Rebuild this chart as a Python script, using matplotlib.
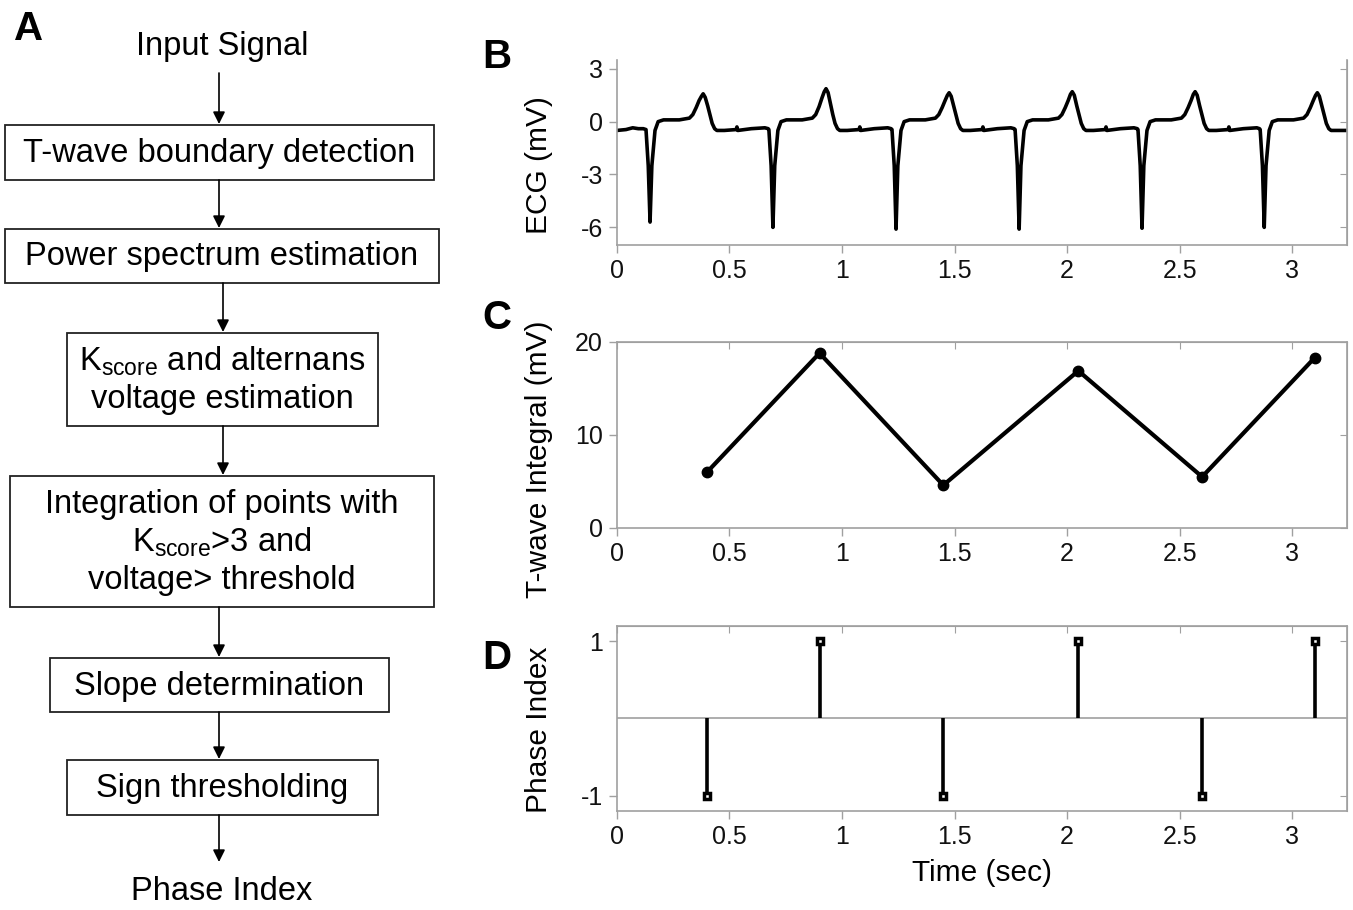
import matplotlib
matplotlib.use('Agg')
import matplotlib.pyplot as plt
from matplotlib.patches import Rectangle

plt.rcParams['font.family'] = ['Liberation Sans', 'DejaVu Sans']
plt.rcParams['mathtext.fontset'] = 'custom'
plt.rcParams['mathtext.rm'] = 'Liberation Sans'
plt.rcParams['mathtext.it'] = 'Liberation Sans:italic'
plt.rcParams['axes.unicode_minus'] = False

# ---- panel A: flow chart text ----
flow_start = 'Input Signal'
flow_end = 'Phase Index'
flow_steps = [
    ['T-wave boundary detection'],
    ['Power spectrum estimation'],
    [r'K$_{\mathrm{score}}$ and alternans', 'voltage estimation'],
    ['Integration of points with', r'K$_{\mathrm{score}}$>3 and', 'voltage> threshold'],
    ['Slope determination'],
    ['Sign thresholding'],
]

# ---- panel B: ECG trace (sec, mV) ----
ecg_t = [0.000, 0.040, 0.070, 0.095, 0.117,
         0.129, 0.139, 0.147, 0.155, 0.169, 0.183, 0.207, 0.277, 0.322, 0.337, 0.352, 0.365, 0.375, 0.383, 0.392, 0.403, 0.413, 0.423, 0.434, 0.444, 0.477, 0.530, 0.533, 0.537, 0.597, 0.657, 0.672,
         0.675, 0.685, 0.693, 0.701, 0.715, 0.729, 0.753, 0.823, 0.868, 0.883, 0.898, 0.911, 0.921, 0.929, 0.938, 0.949, 0.959, 0.969, 0.980, 0.990, 1.023, 1.076, 1.079, 1.083, 1.143, 1.203, 1.218,
         1.222, 1.232, 1.240, 1.248, 1.262, 1.276, 1.300, 1.370, 1.415, 1.430, 1.445, 1.458, 1.468, 1.476, 1.485, 1.496, 1.506, 1.516, 1.527, 1.537, 1.570, 1.623, 1.626, 1.630, 1.690, 1.750, 1.765,
         1.769, 1.779, 1.787, 1.795, 1.809, 1.823, 1.847, 1.917, 1.962, 1.977, 1.992, 2.005, 2.015, 2.023, 2.032, 2.043, 2.053, 2.063, 2.074, 2.084, 2.117, 2.170, 2.173, 2.177, 2.237, 2.297, 2.312,
         2.315, 2.325, 2.333, 2.341, 2.355, 2.369, 2.393, 2.463, 2.508, 2.523, 2.538, 2.551, 2.561, 2.569, 2.578, 2.589, 2.599, 2.609, 2.620, 2.630, 2.663, 2.716, 2.719, 2.723, 2.783, 2.843, 2.855,
         2.858, 2.868, 2.876, 2.884, 2.898, 2.912, 2.936, 3.006, 3.051, 3.066, 3.081, 3.094, 3.104, 3.112, 3.121, 3.132, 3.142, 3.152, 3.163, 3.173, 3.244]
ecg_mv = [-0.50, -0.45, -0.35, -0.40, -0.40,
          -0.45, -2.50, -5.70, -2.50, -0.50, 0.00, 0.10, 0.10, 0.20, 0.40, 0.80, 1.20, 1.43, 1.58, 1.38, 0.90, 0.40, -0.10, -0.40, -0.50, -0.50, -0.45, -0.30, -0.50, -0.40, -0.35, -0.40,
          -0.45, -2.50, -6.00, -2.50, -0.50, 0.00, 0.10, 0.10, 0.20, 0.40, 0.85, 1.35, 1.70, 1.87, 1.65, 1.00, 0.40, -0.10, -0.40, -0.50, -0.50, -0.45, -0.30, -0.50, -0.40, -0.35, -0.40,
          -0.45, -2.50, -6.10, -2.50, -0.50, 0.00, 0.10, 0.10, 0.20, 0.40, 0.80, 1.20, 1.49, 1.64, 1.44, 0.90, 0.40, -0.10, -0.40, -0.50, -0.50, -0.45, -0.30, -0.50, -0.40, -0.35, -0.40,
          -0.45, -2.50, -6.10, -2.50, -0.50, 0.00, 0.10, 0.10, 0.20, 0.40, 0.80, 1.20, 1.55, 1.70, 1.50, 0.90, 0.40, -0.10, -0.40, -0.50, -0.50, -0.45, -0.30, -0.50, -0.40, -0.35, -0.40,
          -0.45, -2.50, -6.05, -2.50, -0.50, 0.00, 0.10, 0.10, 0.20, 0.40, 0.80, 1.20, 1.55, 1.70, 1.50, 0.90, 0.40, -0.10, -0.40, -0.50, -0.50, -0.45, -0.30, -0.50, -0.40, -0.35, -0.40,
          -0.45, -2.50, -6.00, -2.50, -0.50, 0.00, 0.10, 0.10, 0.20, 0.40, 0.80, 1.20, 1.49, 1.64, 1.44, 0.90, 0.40, -0.10, -0.40, -0.50, -0.50]

# ---- panel C / D ----
beat_t = [0.40, 0.90, 1.45, 2.05, 2.60, 3.10]
twave_integral = [6.0, 18.8, 4.6, 16.9, 5.5, 18.3]
phase_index = [-1, 1, -1, 1, -1, 1]

time_ticks = [0, 0.5, 1, 1.5, 2, 2.5, 3]
time_labels = ['0', '0.5', '1', '1.5', '2', '2.5', '3']

GRAY = '#a0a0a0'
TICK_FS = 18
LABEL_FS = 21.5

fig = plt.figure(figsize=(13.53, 9.10), dpi=100)

# flow chart drawn on a pixel-sized overlay
fa = fig.add_axes([0, 0, 1, 1])
fa.set_xlim(0, 1353)
fa.set_ylim(910, 0)
fa.axis('off')

boxes = [(5, 434, 125, 180), (5, 439, 229, 283), (67, 378, 333, 426),
         (10, 434, 476, 607), (50, 389, 658, 712), (67, 378, 760, 815)]
line_gap = 38
for lines, (x0, x1, y0, y1) in zip(flow_steps, boxes):
    fa.add_patch(Rectangle((x0, y0), x1 - x0, y1 - y0, fill=False, ec='#222222', lw=1.3))
    cy = (y0 + y1) / 2 + 1
    n = len(lines)
    for i, s in enumerate(lines):
        yy = cy + (i - (n - 1) / 2) * line_gap
        fa.text((x0 + x1) / 2, yy, s, ha='center', va='center', fontsize=23.5)

fa.text(222, 46, flow_start, ha='center', va='center', fontsize=23.5)
fa.text(222, 891, flow_end, ha='center', va='center', fontsize=23.5)

arrows = [(219, 73, 124), (219, 180, 228), (223, 283, 332), (223, 426, 475),
          (219, 607, 657), (219, 712, 759), (219, 815, 862)]
for x, ya, yb in arrows:
    fa.annotate('', xy=(x, yb), xytext=(x, ya),
                arrowprops=dict(arrowstyle='-|>', color='k', lw=1.2,
                                mutation_scale=18, shrinkA=0, shrinkB=0))

for lab, (x, y) in zip('ABCD', [(29, 29), (497, 57), (497, 318), (497, 658)]):
    fa.text(x, y, lab, ha='center', va='center', fontsize=29, fontweight='bold')


def style(ax, box=True):
    for s in ['left', 'bottom', 'right', 'top']:
        ax.spines[s].set_color(GRAY)
        ax.spines[s].set_linewidth(1.2)
    ax.spines['top'].set_visible(box)
    ax.tick_params(direction='out', length=6, width=1, color=GRAY,
                   labelsize=TICK_FS, labelcolor='#111111', pad=4)
    ax.set_xlim(0, 3.244)
    ax.set_xticks(time_ticks)
    ax.set_xticklabels(time_labels)
    # mirrored inward ticks on the right (and top)
    ry = ax.secondary_yaxis('right')
    ry.set_yticks(ax.get_yticks())
    ry.tick_params(direction='in', length=5, color=GRAY, labelright=False)
    ry.spines['right'].set_color(GRAY)
    if box:
        tx = ax.secondary_xaxis('top')
        tx.set_xticks(time_ticks)
        tx.tick_params(direction='in', length=5, color=GRAY, labeltop=False)
        tx.spines['top'].set_color(GRAY)


# panel B
axb = fig.add_axes([0.456, 0.7308, 0.5396, 0.2033])
axb.plot(ecg_t, ecg_mv, color='k', lw=2.6, solid_joinstyle='round')
axb.set_ylim(-7, 3.5)
axb.set_yticks([3, 0, -3, -6])
axb.set_yticklabels(['3', '0', '-3', '-6'])
style(axb, box=False)
axb.set_ylabel('ECG (mV)', fontsize=LABEL_FS)
axb.yaxis.set_label_coords(-0.088, 0.43)

# panel C
axc = fig.add_axes([0.456, 0.4198, 0.5396, 0.2044])
axc.plot(beat_t, twave_integral, color='k', lw=3, marker='o', ms=7.5)
axc.set_ylim(0, 20)
axc.set_yticks([0, 10, 20])
style(axc)
axc.set_ylabel('T-wave Integral (mV)', fontsize=LABEL_FS)
axc.yaxis.set_label_coords(-0.088, 0.37)

# panel D
axd = fig.add_axes([0.456, 0.1088, 0.5396, 0.2033])
axd.axhline(0, color=GRAY, lw=1.2)
axd.vlines(beat_t, 0, phase_index, color='k', lw=2.6)
axd.plot(beat_t, phase_index, ls='none', marker='s', ms=4, mfc='white', mec='k', mew=2.5)
axd.set_ylim(-1.2, 1.2)
axd.set_yticks([1, -1])
axd.set_yticklabels(['1', '-1'])
style(axd)
axd.set_ylabel('Phase Index', fontsize=LABEL_FS)
axd.yaxis.set_label_coords(-0.088, 0.44)
axd.set_xlabel('Time (sec)', fontsize=LABEL_FS, labelpad=7)

fig.savefig('out.png', dpi=100)
